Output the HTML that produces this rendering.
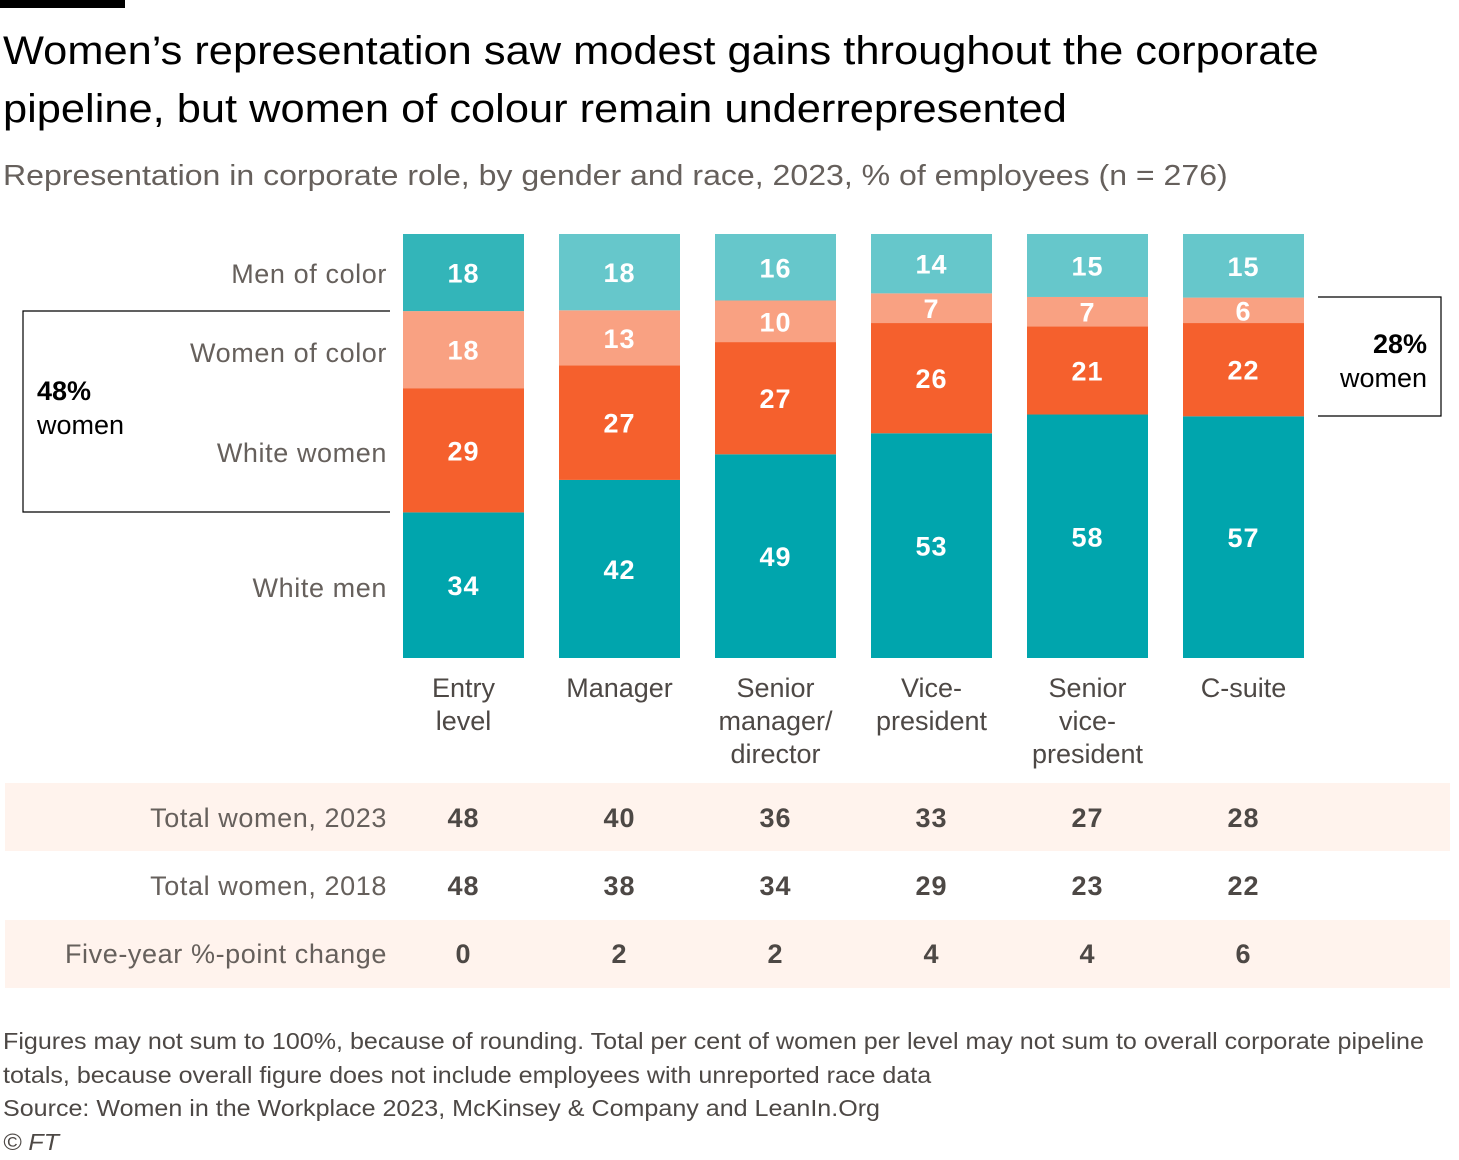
<!DOCTYPE html>
<html><head><meta charset="utf-8"><style>
body{margin:0;background:#fff;width:1459px;height:1160px;overflow:hidden;font-family:"Liberation Sans",sans-serif;position:relative}
.a{position:absolute;white-space:nowrap;transform-origin:0 0}
</style></head><body>
<div class="a" style="left:0;top:0;width:125px;height:8px;background:#000"></div>
<div class="a" style="left:3px;top:22px;font-size:40px;line-height:58px;color:#000;transform:scaleX(1.085)">Women’s representation saw modest gains throughout the corporate<br>pipeline, but women of colour remain underrepresented</div>
<div class="a" style="left:3px;top:160px;font-size:29px;color:#66605c;transform:scaleX(1.105)">Representation in corporate role, by gender and race, 2023, % of employees (n = 276)</div>
<svg class="a" style="left:0;top:0" width="1459" height="1160">
<g id="bands"></g><g id="bars"></g><g id="txt"></g>
</svg>
<div class="a" style="left:3px;top:1025px;font-size:23px;line-height:33.5px;color:#4d4845;transform:scaleX(1.09)">Figures may not sum to 100%, because of rounding. Total per cent of women per level may not sum to overall corporate pipeline<br>totals, because overall figure does not include employees with unreported race data<br>Source: Women in the Workplace 2023, McKinsey &amp; Company and LeanIn.Org<br><i>© FT</i></div>
<script>
const categories=["Entry\nlevel","Manager","Senior\nmanager/\ndirector","Vice-\npresident","Senior\nvice-\npresident","C-suite"];
const whiteMen=[34,42,49,53,58,57];
const whiteWomen=[29,27,27,26,21,22];
const womenColor=[18,13,10,7,7,6];
const menColor=[18,18,16,14,15,15];
const women2023=[48,40,36,33,27,28];
const women2018=[48,38,34,29,23,22];
const change=[0,2,2,4,4,6];
const NS="http://www.w3.org/2000/svg";
const X0=403,STEP=156,BW=121,TOP=234,BOT=658;
const xPos=i=>X0+i*STEP;
function el(p,t,a,txt){const e=document.createElementNS(NS,t);for(const k in a)e.setAttribute(k,a[k]);if(txt!==undefined)e.textContent=txt;document.getElementById(p).appendChild(e);return e;}
const T='font-family:"Liberation Sans",sans-serif;';
[[783,851],[920,988]].forEach(([a,b],i)=>{const r=el('bands','rect',{x:5,y:a,width:1445,height:b-a,fill:'#fff3ed'});

});
const series=[[whiteMen,'#00a5ad','white-men'],[whiteWomen,'#f5602d','white-women'],[womenColor,'#f9a182','women-of-color'],[menColor,'#66c7cb','men-of-color']];
categories.forEach((c,i)=>{
 const tot=whiteMen[i]+whiteWomen[i]+womenColor[i]+menColor[i];
 let y=BOT;
 series.forEach(([arr,col,nm],s)=>{
  const h=arr[i]/tot*(BOT-TOP);
  const fill=(s===3&&i===0)?'#33b5b9':col;
  const r=el('bars','rect',{x:xPos(i),y:y-h,width:BW,height:h,fill:fill});
  
  
  const t=el('txt','text',{x:xPos(i)+BW/2,y:y-h/2+10,'text-anchor':'middle',fill:'#fff','font-size':27,'font-weight':'bold',style:T+'letter-spacing:1px'},arr[i]);
  
  
  y-=h;
 });
 c.split('\n').forEach((ln,k)=>{const t=el('txt','text',{x:xPos(i)+BW/2,y:697+k*33,'text-anchor':'middle',fill:'#4d4845','font-size':27,style:T},ln);
 
 });
 [[women2023,827],[women2018,895],[change,963]].forEach(([arr,yy])=>{const t=el('txt','text',{x:xPos(i)+BW/2,y:yy,'text-anchor':'middle',fill:'#4d4845','font-size':27,'font-weight':'bold',style:T+'letter-spacing:1px'},arr[i]);
 
 });
});
[["Men of color",283],["Women of color",362],["White women",462],["White men",597],["Total women, 2023",827],["Total women, 2018",895],["Five-year %-point change",963]].forEach(([s,yy])=>{
 const t=el('txt','text',{x:387,y:yy,'text-anchor':'end',fill:'#66605c','font-size':27,style:T+'letter-spacing:0.6px'},s);
 
 });
const p1=el('txt','path',{d:'M390 311H23V512H390',fill:'none',stroke:'#000','stroke-width':1.2});


const p2=el('txt','path',{d:'M1318 297H1441V416H1318',fill:'none',stroke:'#000','stroke-width':1.2});


[[37,400,'48%','bold','start'],[37,434,'women','normal','start'],[1427,353,'28%','bold','end'],[1427,387,'women','normal','end']].forEach(([x,y,s,w,a])=>{
 const t=el('txt','text',{x:x,y:y,'text-anchor':a,fill:'#000','font-size':27,'font-weight':w,style:T},s);
 
 });
</script>
</body></html>
